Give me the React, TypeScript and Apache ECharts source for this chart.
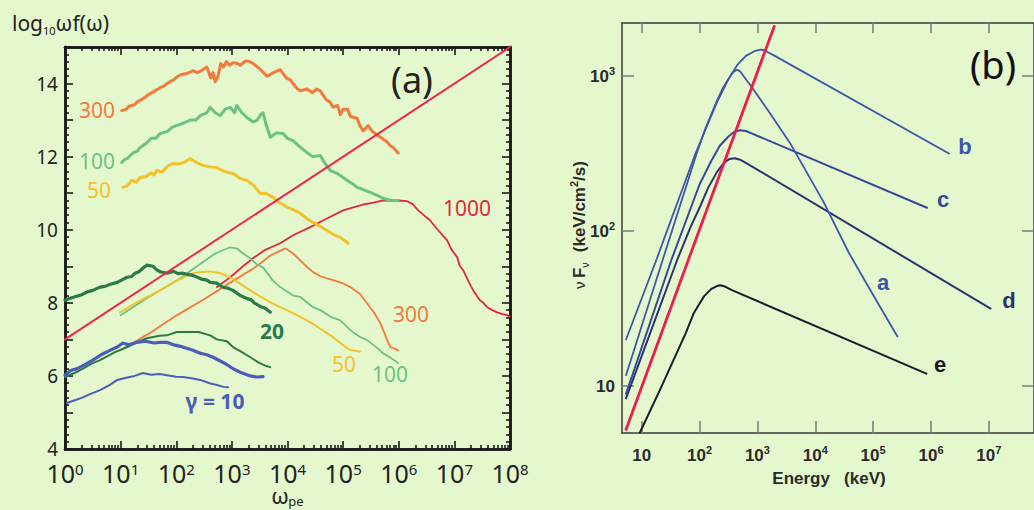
import React, { useEffect, useRef } from 'react';
import * as echarts from 'echarts';

// ---------- Panel (a): x = log10(omega_pe), y = log10(omega f(omega)) ----------
const gamma300Hi = [[1.02,13.26],[1.1,13.3],[1.15,13.38],[1.25,13.42],[1.3,13.5],[1.35,13.54],[1.42,13.6],[1.5,13.7],[1.6,13.78],[1.7,13.88],[1.77,13.92],[1.83,14.0],[1.95,14.1],[2.03,14.2],[2.1,14.25],[2.2,14.28],[2.3,14.35],[2.38,14.3],[2.45,14.35],[2.55,14.45],[2.62,14.15],[2.66,14.3],[2.7,14.05],[2.75,14.2],[2.8,14.55],[2.85,14.45],[2.9,14.6],[2.96,14.5],[3.02,14.57],[3.1,14.55],[3.15,14.5],[3.25,14.62],[3.32,14.6],[3.38,14.55],[3.5,14.4],[3.63,14.2],[3.75,14.3],[3.87,14.38],[3.98,14.15],[4.05,14.1],[4.1,14.0],[4.18,13.85],[4.23,13.8],[4.35,13.85],[4.45,13.75],[4.52,13.85],[4.59,13.8],[4.7,13.55],[4.76,13.5],[4.82,13.35],[4.9,13.4],[4.95,13.15],[5.0,13.3],[5.08,13.3],[5.13,13.1],[5.25,13.05],[5.3,12.85],[5.36,12.7],[5.45,12.85],[5.52,12.7],[5.6,12.6],[5.7,12.5],[5.79,12.4],[5.85,12.3],[5.9,12.25],[5.99,12.1]];
const gamma100Hi = [[1.02,11.84],[1.07,11.92],[1.12,11.95],[1.22,12.1],[1.3,12.15],[1.35,12.25],[1.45,12.35],[1.55,12.5],[1.63,12.5],[1.71,12.63],[1.85,12.7],[1.92,12.8],[2.0,12.85],[2.1,12.9],[2.18,12.95],[2.25,13.0],[2.35,13.0],[2.43,13.12],[2.55,13.2],[2.61,13.35],[2.7,13.2],[2.79,13.12],[2.88,13.3],[2.97,13.35],[3.05,13.2],[3.09,13.4],[3.18,13.2],[3.27,13.07],[3.38,12.95],[3.45,12.99],[3.52,13.15],[3.56,13.2],[3.62,12.85],[3.69,12.53],[3.8,12.65],[3.92,12.63],[4.0,12.5],[4.1,12.44],[4.2,12.3],[4.28,12.2],[4.35,12.11],[4.45,12.0],[4.59,12.03],[4.68,11.8],[4.77,11.62],[4.88,11.55],[5.0,11.43],[5.12,11.3],[5.18,11.25],[5.25,11.16],[5.36,11.1],[5.49,11.02],[5.6,10.95],[5.72,10.86],[5.85,10.8],[5.99,10.8]];
const gamma50Hi = [[1.04,11.16],[1.12,11.2],[1.2,11.35],[1.28,11.3],[1.35,11.43],[1.45,11.45],[1.55,11.55],[1.6,11.5],[1.65,11.62],[1.75,11.58],[1.85,11.75],[1.94,11.81],[2.05,11.8],[2.15,11.85],[2.25,11.95],[2.35,11.85],[2.48,11.76],[2.6,11.72],[2.73,11.7],[2.85,11.6],[3.02,11.54],[3.15,11.4],[3.27,11.35],[3.4,11.2],[3.51,10.99],[3.6,11.0],[3.74,10.89],[3.85,10.75],[3.99,10.62],[4.1,10.55],[4.23,10.45],[4.35,10.3],[4.46,10.2],[4.58,10.1],[4.71,9.98],[4.85,9.85],[4.95,9.79],[5.09,9.63]];
const gamma1000 = [[2.73,8.43],[2.97,8.70],[3.2,9.0],[3.38,9.22],[3.6,9.45],[3.87,9.63],[4.1,9.85],[4.41,10.07],[4.7,10.3],[5.0,10.53],[5.2,10.62],[5.36,10.69],[5.55,10.74],[5.72,10.80],[5.85,10.79],[5.99,10.80],[6.15,10.78],[6.25,10.7],[6.35,10.53],[6.45,10.4],[6.56,10.26],[6.7,10.0],[6.87,9.71],[6.95,9.45],[7.05,9.25],[7.1,9.0],[7.16,8.89],[7.25,8.6],[7.3,8.45],[7.34,8.34],[7.4,8.2],[7.46,8.07],[7.52,8.0],[7.59,7.88],[7.68,7.8],[7.77,7.74],[7.85,7.7],[7.95,7.66],[8.0,7.62]];
const gamma300Lo = [[1.0,6.70],[1.5,7.15],[2.0,7.65],[2.5,8.1],[3.0,8.58],[3.4,8.95],[3.7,9.3],[3.96,9.49],[4.1,9.35],[4.23,9.16],[4.35,8.98],[4.46,8.84],[4.6,8.72],[4.82,8.62],[5.0,8.53],[5.13,8.43],[5.3,8.25],[5.43,7.99],[5.55,7.75],[5.67,7.44],[5.75,7.15],[5.79,6.98],[5.85,6.79],[5.92,6.75],[5.99,6.70]];
const gamma100Lo = [[1.0,7.66],[1.5,8.15],[2.0,8.6],[2.43,9.06],[2.7,9.35],[2.97,9.52],[3.1,9.48],[3.2,9.35],[3.33,9.22],[3.45,9.05],[3.56,8.97],[3.74,8.6],[3.87,8.43],[4.1,8.2],[4.23,8.16],[4.46,7.88],[4.59,7.80],[4.8,7.6],[4.95,7.52],[5.13,7.25],[5.31,7.06],[5.43,6.98],[5.6,6.78],[5.72,6.62],[5.85,6.5],[5.99,6.35]];
const gamma50Lo = [[0.99,7.74],[1.3,8.02],[1.71,8.34],[2.0,8.6],[2.3,8.81],[2.43,8.84],[2.6,8.86],[2.79,8.81],[2.97,8.70],[3.15,8.52],[3.33,8.34],[3.5,8.18],[3.63,8.07],[3.8,7.93],[3.99,7.80],[4.15,7.68],[4.35,7.52],[4.5,7.38],[4.71,7.17],[4.82,7.06],[4.95,6.9],[5.07,6.76],[5.15,6.7],[5.25,6.68],[5.3,6.66]];
const gamma20Hi = [[0,8.07],[0.08,8.12],[0.15,8.15],[0.3,8.22],[0.4,8.3],[0.5,8.34],[0.63,8.43],[0.72,8.45],[0.8,8.5],[0.94,8.56],[1.05,8.65],[1.12,8.70],[1.2,8.72],[1.25,8.8],[1.33,8.85],[1.4,8.95],[1.47,9.03],[1.58,9.0],[1.65,8.9],[1.71,8.85],[1.83,8.81],[1.95,8.86],[2.03,8.8],[2.12,8.81],[2.2,8.78],[2.3,8.75],[2.45,8.65],[2.55,8.62],[2.61,8.56],[2.73,8.54],[2.85,8.42],[2.93,8.4],[3.02,8.34],[3.15,8.2],[3.27,8.12],[3.35,8.08],[3.4,8.0],[3.51,7.9],[3.6,7.85],[3.69,7.74]];
const gamma20Lo = [[0,5.97],[0.2,6.1],[0.5,6.35],[0.63,6.43],[0.9,6.65],[1.12,6.79],[1.3,6.92],[1.47,7.03],[1.7,7.1],[1.83,7.11],[2.01,7.2],[2.25,7.2],[2.4,7.2],[2.61,7.11],[2.73,7.0],[2.91,6.95],[3.02,6.79],[3.15,6.68],[3.33,6.51],[3.5,6.35],[3.6,6.28],[3.69,6.24]];
const gamma10Hi = [[0,6.02],[0.1,6.15],[0.22,6.2],[0.35,6.3],[0.5,6.43],[0.65,6.58],[0.81,6.70],[0.94,6.79],[1.04,6.9],[1.15,6.85],[1.29,6.92],[1.45,6.95],[1.6,6.9],[1.71,6.92],[1.83,6.92],[1.95,6.85],[2.1,6.8],[2.3,6.70],[2.43,6.62],[2.55,6.58],[2.66,6.51],[2.8,6.4],[2.9,6.32],[3.02,6.2],[3.15,6.1],[3.33,6.0],[3.45,5.97],[3.56,5.98]];
const gamma10Lo = [[0.03,5.26],[0.15,5.32],[0.3,5.4],[0.45,5.5],[0.63,5.61],[0.8,5.75],[0.94,5.89],[1.1,5.95],[1.25,6.0],[1.4,6.08],[1.55,6.03],[1.7,6.05],[1.83,6.02],[2.0,5.98],[2.12,5.97],[2.3,5.93],[2.43,5.89],[2.6,5.8],[2.73,5.75],[2.85,5.7],[2.93,5.69]];
const diagonalA = [[0,7],[8,15]];
const xDecadesA = [0,1,2,3,4,5,6,7,8];
const yLabelsA = [4,6,8,10,12,14];

// ---------- Panel (b): x = log10(E/keV), y = log10(nu F_nu) ----------
const curveA = [[0.73,1.07],[1.36,1.81],[1.95,2.5],[2.1,2.66],[2.2,2.75],[2.3,2.84],[2.4,2.92],[2.48,2.97],[2.55,3.01],[2.6,3.03],[2.65,3.04],[2.7,3.03],[2.76,3.0],[2.82,2.97],[2.88,2.94],[3.2,2.77],[3.56,2.57],[4.14,2.19],[4.58,1.86],[4.98,1.60],[5.42,1.32]];
const curveB = [[0.73,1.30],[1.25,1.81],[1.93,2.5],[2.3,2.83],[2.5,2.98],[2.65,3.07],[2.8,3.13],[2.95,3.16],[3.05,3.17],[3.13,3.165],[3.2,3.15],[3.3,3.13],[6.31,2.50]];
const curveC = [[0.73,0.95],[1.51,1.81],[1.8,2.1],[2.0,2.3],[2.2,2.45],[2.35,2.55],[2.5,2.61],[2.6,2.64],[2.7,2.65],[2.8,2.645],[2.9,2.63],[5.93,2.15]];
const curveD = [[0.73,0.92],[1.61,1.81],[1.85,2.03],[2.0,2.15],[2.15,2.28],[2.3,2.38],[2.42,2.44],[2.52,2.465],[2.61,2.47],[2.7,2.46],[2.8,2.44],[7.03,1.50]];
const curveE = [[0.97,0.70],[1.31,0.97],[1.76,1.34],[1.9,1.47],[1.98,1.52],[2.08,1.58],[2.2,1.625],[2.3,1.645],[2.36,1.65],[2.45,1.64],[2.55,1.62],[5.92,1.08]];
const redLineB = [[0.73,0.72],[3.29,3.32]];
const xDecadesB = [1,2,3,4,5,6,7];
const yDecadesB = [1,2,3];

const BG = '#e5f8cd';
const FA = '"Noto Sans", sans-serif';
const FB = '"Liberation Sans", Arial, sans-serif';

const minorX: number[] = [];
for (let n = 0; n < 8; n++) for (let k = 2; k <= 9; k++) minorX.push(n + Math.log10(k));
const minorY: number[] = [];
for (let i = 20; i <= 75; i++) if (i % 5 !== 0) minorY.push(i / 5);
const majorY: number[] = [];
for (let i = 4; i <= 15; i++) majorY.push(i);

function axisA(extra: any) {
  return {
    gridIndex: 0,
    type: 'value',
    splitLine: { show: false },
    axisLine: { show: true, onZero: false, lineStyle: { color: '#1a1a1a', width: 2.5 } },
    ...extra,
  };
}

function buildOption() {
  const tickA = (vals: number[], len: number) => ({ show: true, inside: true, length: len, customValues: vals, lineStyle: { color: '#1a1a1a', width: 1.6 } });
  const noLabel = { show: false };
  const xA = (pos: string, vals: number[], len: number, label: any) => axisA({ position: pos, min: 0, max: 8, axisTick: tickA(vals, len), axisLabel: label });
  const yA = (pos: string, vals: number[], len: number, label: any) => axisA({ position: pos, min: 4, max: 15, axisTick: tickA(vals, len), axisLabel: label });

  const xLabelA = {
    show: true, customValues: xDecadesA, margin: 12,
    formatter: (v: number) => `{b|10}{s|${v}}`,
    rich: {
      b: { fontFamily: FA, fontSize: 25, color: '#222', lineHeight: 23 },
      s: { fontFamily: FA, fontSize: 15, color: '#222', verticalAlign: 'top', lineHeight: 14 },
    },
  };
  const yLabelA = { show: true, customValues: yLabelsA, margin: 7, fontFamily: FA, fontSize: 19, lineHeight: 17, color: '#222' };

  const tickB = (vals: number[], len: number) => ({ show: true, inside: true, length: len, customValues: vals, lineStyle: { color: '#7a7a7a', width: 1.5 } });
  const lineB = { show: true, onZero: false, lineStyle: { color: '#3a3a3a', width: 1.5 } };
  const richB = {
    b: { fontFamily: FB, fontWeight: 'bold', fontSize: 17, color: '#2a2a2a', lineHeight: 22 },
    s: { fontFamily: FB, fontWeight: 'bold', fontSize: 11, color: '#2a2a2a', verticalAlign: 'top', lineHeight: 14 },
  };
  const supB = (v: number) => (v === 1 ? '{b|10}' : `{b|10}{s|${v}}`);

  const line = (data: number[][], color: string, width: number, xi: number, yi: number) => ({
    type: 'line', data, xAxisIndex: xi, yAxisIndex: yi, showSymbol: false, symbol: 'none',
    lineStyle: { color, width, join: 'round', cap: 'round' }, silent: true,
  });

  const text = (x: number, y: number, t: string, color: string, size: number, font = FA, weight: any = 'normal') => ({
    type: 'text', x, y, silent: true,
    style: { text: t, fill: color, font: `${weight} ${size}px ${font}`, align: 'center', verticalAlign: 'middle' },
  });

  const orange = '#f27a3c', green = '#6cc281', yellow = '#f2c22a', red1000 = '#e0283a', dgreen = '#2b7a48', blue = '#4b5db8';
  const blueB = '#3d57a8', blueC = '#34489a', navyD = '#2a3272', blackE = '#1b1b2c';

  return {
    animation: false,
    backgroundColor: BG,
    grid: [
      { left: 65, top: 47, width: 445, height: 402, containLabel: false },
      { left: 622, top: 23, width: 420, height: 410, containLabel: false },
    ],
    xAxis: [
      xA('bottom', xDecadesA, 8, xLabelA),
      xA('bottom', minorX, 4, noLabel),
      xA('top', xDecadesA, 8, noLabel),
      xA('top', minorX, 4, noLabel),
      { gridIndex: 1, type: 'value', position: 'bottom', min: 0.66, max: 7.78, splitLine: { show: false }, axisLine: lineB, axisTick: tickB(xDecadesB, 12), axisLabel: { show: true, customValues: xDecadesB, margin: 11, formatter: supB, rich: richB } },
      { gridIndex: 1, type: 'value', position: 'top', min: 0.66, max: 7.78, splitLine: { show: false }, axisLine: lineB, axisTick: tickB(xDecadesB, 10), axisLabel: noLabel },
    ],
    yAxis: [
      yA('left', majorY, 8, yLabelA),
      yA('left', minorY, 4, noLabel),
      yA('right', majorY, 8, noLabel),
      yA('right', minorY, 4, noLabel),
      { gridIndex: 1, type: 'value', position: 'left', min: 0.697, max: 3.342, splitLine: { show: false }, axisLine: lineB, axisTick: tickB(yDecadesB, 12), axisLabel: { show: true, customValues: yDecadesB, margin: 7, formatter: supB, rich: richB } },
      { gridIndex: 1, type: 'value', position: 'right', min: 0.697, max: 3.342, splitLine: { show: false }, axisLine: lineB, axisTick: tickB(yDecadesB, 12), axisLabel: noLabel },
    ],
    series: [
      line(gamma300Lo, orange, 1.8, 0, 0),
      line(gamma1000, red1000, 1.8, 0, 0),
      line(gamma100Lo, green, 1.8, 0, 0),
      line(gamma50Lo, yellow, 2, 0, 0),
      line(gamma10Lo, blue, 2, 0, 0),
      line(gamma20Lo, dgreen, 2, 0, 0),
      line(gamma10Hi, blue, 3.2, 0, 0),
      line(gamma20Hi, dgreen, 3.2, 0, 0),
      line(gamma300Hi, orange, 3, 0, 0),
      line(gamma100Hi, green, 3, 0, 0),
      line(gamma50Hi, yellow, 3, 0, 0),
      line(diagonalA, '#ee2848', 2, 0, 0),
      line(curveE, blackE, 2, 4, 4),
      line(curveD, navyD, 2, 4, 4),
      line(curveC, blueC, 2, 4, 4),
      line(curveA, blueB, 1.8, 4, 4),
      line(curveB, blueB, 1.8, 4, 4),
      line(redLineB, '#ec1d4d', 2.8, 4, 4),
    ],
    graphic: [
      {
        type: 'text', x: 12, y: 10, silent: true,
        style: {
          text: '{m|log}{u|10}{m|ωf(ω)}', fill: '#222',
          rich: {
            m: { fontFamily: FA, fontSize: 21, fill: '#222', lineHeight: 26 },
            u: { fontFamily: FA, fontSize: 11, fill: '#222', verticalAlign: 'bottom', lineHeight: 12 },
          },
        },
      },
      text(280, 495, 'ω', '#222', 22),
      text(296, 501, 'pe', '#222', 13),
      text(412, 79, '(a)', '#222', 36),
      text(97, 110, '300', orange, 21),
      text(97, 161, '100', green, 21),
      text(99, 190, '50', yellow, 21),
      text(467, 208, '1000', red1000, 21),
      text(411, 314, '300', orange, 21),
      text(272, 331, '20', dgreen, 21, FA, 'bold'),
      text(344, 364, '50', yellow, 21),
      text(390, 374, '100', green, 21),
      text(215, 401, 'γ = 10', blue, 21, FA, 'bold'),
      text(993, 64, '(b)', '#111', 38),
      text(965, 146, 'b', blueB, 22, FB, 'bold'),
      text(943, 199, 'c', blueC, 22, FB, 'bold'),
      text(883, 282, 'a', blueB, 22, FB, 'bold'),
      text(1009, 300, 'd', navyD, 22, FB, 'bold'),
      text(940, 364, 'e', blackE, 22, FB, 'bold'),
      text(829, 478, 'Energy   (keV)', '#2a2a2a', 17, FB, 'bold'),
      {
        type: 'text', x: 579, y: 225, rotation: Math.PI / 2, silent: true,
        style: {
          text: '{n|ν} {f|F}{u|ν}   {f|(keV/cm}{s|2}{f|/s)}', align: 'center', verticalAlign: 'middle',
          rich: {
            n: { fontFamily: FB, fontSize: 15, fill: '#2a2a2a', lineHeight: 22 },
            f: { fontFamily: FB, fontWeight: 'bold', fontSize: 17, fill: '#2a2a2a', lineHeight: 22 },
            u: { fontFamily: FB, fontSize: 11, fill: '#2a2a2a', verticalAlign: 'bottom', lineHeight: 14 },
            s: { fontFamily: FB, fontWeight: 'bold', fontSize: 11, fill: '#2a2a2a', verticalAlign: 'top', lineHeight: 14 },
          },
        },
      },
    ],
  };
}

export default function App() {
  const ref = useRef<HTMLDivElement>(null);
  useEffect(() => {
    const chart = echarts.init(ref.current as HTMLDivElement, null, { renderer: 'svg' });
    chart.setOption(buildOption() as any);
    return () => chart.dispose();
  }, []);
  return (
    <div
      ref={ref}
      style={{ position: 'fixed', left: 0, top: 0, width: 1034, height: 510, background: BG, overflow: 'hidden' }}
    />
  );
}
